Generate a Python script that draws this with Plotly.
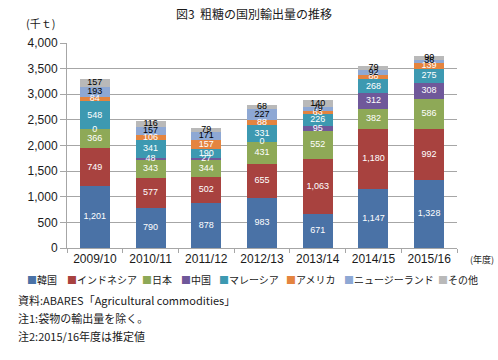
import plotly.graph_objects as go
import numpy as np

# ---- data ----
years = ["2009/10", "2010/11", "2011/12", "2012/13", "2013/14", "2014/15", "2015/16"]
korea = [1201, 790, 878, 983, 671, 1147, 1328]
indonesia = [749, 577, 502, 655, 1063, 1180, 992]
japan = [366, 343, 344, 431, 552, 382, 586]
china = [0, 48, 27, 0, 95, 312, 308]
malaysia = [548, 341, 190, 331, 226, 268, 275]
usa = [84, 106, 157, 88, 63, 88, 139]
new_zealand = [193, 157, 171, 227, 79, 92, 36]
others = [157, 116, 79, 68, 140, 79, 90]
y_ticks = [0, 500, 1000, 1500, 2000, 2500, 3000, 3500, 4000]

series_names = ["韓国", "インドネシア", "日本", "中国", "マレーシア", "アメリカ", "ニュージーランド", "その他"]
series_vals = [korea, indonesia, japan, china, malaysia, usa, new_zealand, others]
colors = ["#4A72A6", "#A8423F", "#8EA957", "#6F589A", "#3D99B1", "#E4843F", "#8EA8D4", "#B9B9B9"]
label_colors = ["white", "white", "white", "white", "white", "white", "black", "black"]

W, H = 498, 360
L, R, T, B = 67, 41, 43, 112
PW, PH = W - L - R, H - T - B

def px2paper_x(px):
    return (px - L) / PW

def px2paper_y(py):
    return (H - B - py) / PH

CJK = "Noto Sans CJK JP"
LAT = "Liberation Sans"

fig = go.Figure()

for name, vals, c in zip(series_names, series_vals, colors):
    fig.add_trace(go.Bar(
        x=years, y=vals, name=name, marker=dict(color=c, line=dict(width=0)),
        showlegend=False, hoverinfo="skip"))

# data labels at segment centres (computed from the stacked values)
base = np.zeros(len(years))
for name, vals, lc in zip(series_names, series_vals, label_colors):
    v = np.array(vals, dtype=float)
    mids = base + v / 2
    fig.add_trace(go.Scatter(
        x=years, y=mids, mode="text", text=[f"{int(x):,}" for x in vals],
        textfont=dict(family=LAT, size=9, color=lc), textposition="middle center",
        showlegend=False, hoverinfo="skip"))
    base = base + v

grid = "#A6A6A6"
fig.update_layout(
    width=W, height=H, autosize=False,
    margin=dict(l=L, r=R, t=T, b=B, pad=0),
    paper_bgcolor="white", plot_bgcolor="white",
    barmode="stack", bargap=0.46,
    font=dict(family=LAT, size=12, color="#1a1a1a"),
    xaxis=dict(type="category", tickson="boundaries", ticks="outside", ticklen=4,
               tickcolor=grid, showline=True, linecolor=grid, linewidth=1,
               showgrid=False, tickfont=dict(family=LAT, size=12, color="#1a1a1a"),
               fixedrange=True),
    yaxis=dict(range=[0, 4000], tickvals=y_ticks, tickformat=",d", ticks="outside",
               ticklen=6, tickcolor=grid, showline=True, linecolor=grid, linewidth=1,
               showgrid=True, gridcolor=grid, gridwidth=1, zeroline=False,
               tickfont=dict(family=LAT, size=12, color="#1a1a1a"), fixedrange=True),
)

ann = []
ann.append(dict(text="図3  粗糖の国別輸出量の推移", x=px2paper_x(254), y=px2paper_y(13),
                xref="paper", yref="paper", xanchor="center", yanchor="middle",
                showarrow=False, font=dict(family=CJK, size=12, color="#1a1a1a")))
ann.append(dict(text="(千ｔ)", x=px2paper_x(24), y=px2paper_y(23),
                xref="paper", yref="paper", xanchor="left", yanchor="middle",
                showarrow=False, font=dict(family=CJK, size=11, color="#1a1a1a")))
ann.append(dict(text="(年度)", x=px2paper_x(496), y=px2paper_y(259),
                xref="paper", yref="paper", xanchor="right", yanchor="middle",
                showarrow=False, font=dict(family=CJK, size=9, color="#1a1a1a")))

# legend row
legend_x = [25, 65, 140, 179, 217, 284, 342, 436]
for name, c, lx in zip(series_names, colors, legend_x):
    ann.append(dict(text=f"<span style='color:{c}'>■</span>{name}",
                    x=px2paper_x(lx), y=px2paper_y(279),
                    xref="paper", yref="paper", xanchor="left", yanchor="middle",
                    showarrow=False, font=dict(family=CJK, size=10, color="#1a1a1a")))

notes = ["資料:ABARES「Agricultural commodities」",
         "注1:袋物の輸出量を除く。",
         "注2:2015/16年度は推定値"]
for txt, ny in zip(notes, [300, 318, 336]):
    ann.append(dict(text=txt, x=px2paper_x(16), y=px2paper_y(ny),
                    xref="paper", yref="paper", xanchor="left", yanchor="middle",
                    showarrow=False, font=dict(family=CJK, size=11, color="#1a1a1a")))

fig.update_layout(annotations=ann)
fig.write_html("out.html", config={"displayModeBar": False},
               post_script="document.body.style.margin='0px';document.body.style.overflow='hidden';")
